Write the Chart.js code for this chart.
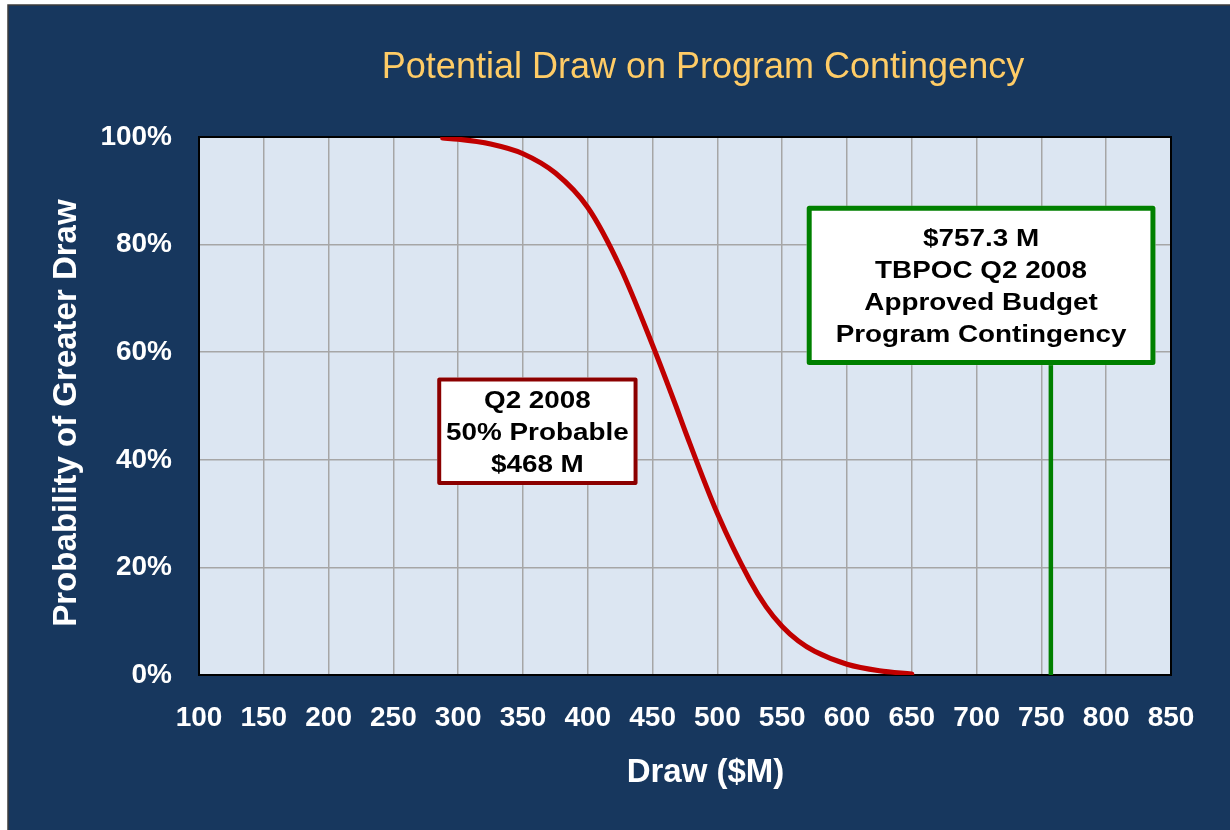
<!DOCTYPE html>
<html>
<head>
<meta charset="utf-8">
<title>Potential Draw on Program Contingency</title>
<script src="https://cdn.jsdelivr.net/npm/chart.js@4.4.1/dist/chart.umd.min.js"></script>
<style>
  html, body { margin: 0; padding: 0; background: #fff; }
</style>
</head>
<body>
<canvas id="chart" width="1230" height="830"></canvas>
<script>
// Draw ($M) vs probability of a greater draw (%)
const drawValues = [288, 300, 325, 350, 375, 400, 425, 450, 468, 475, 500, 525, 537.5, 550, 562.5, 575, 600, 625, 650];
const probValues = [99.8, 99.6, 98.7, 96.9, 93.3, 86.9, 75.8, 61.3, 50, 45.4, 30, 17.6, 12.7, 9.0, 6.3, 4.4, 2.0, 0.8, 0.2];

// Approved budget contingency marker
const budgetDraw = [757.3, 757.3];
const budgetProb = [0, 62];

const xTickValues = [100, 150, 200, 250, 300, 350, 400, 450, 500, 550, 600, 650, 700, 750, 800, 850];
const yTickValues = [0, 20, 40, 60, 80, 100];

const redNoteLines = ['Q2 2008', '50% Probable', '$468 M'];
const greenNoteLines = ['$757.3 M', 'TBPOC Q2 2008', 'Approved Budget', 'Program Contingency'];

const FONT = "'Liberation Sans', Arial, sans-serif";
const NAVY = '#17375E';
const PLOT_BG = '#DCE6F2';

// callout boxes, placed in data units (draw $M / probability %)
const notes = [
  { lines: redNoteLines, x0: 283.8, x1: 438.4, y0: 35.3, y1: 55.3, color: '#8B0000', border: 4 },
  { lines: greenNoteLines, x0: 568.9, x1: 838, y0: 57.6, y1: 87.2, color: '#008000', border: 5 }
];

const framePlugin = {
  id: 'frame',
  beforeDraw(chart) {
    const { ctx, chartArea: a } = chart;
    ctx.save();
    ctx.fillStyle = '#fff';
    ctx.fillRect(0, 0, chart.width, chart.height);
    ctx.fillStyle = NAVY;
    ctx.fillRect(8, 5, chart.width - 8, chart.height - 5);
    ctx.strokeStyle = '#3c3c3c';
    ctx.lineWidth = 1.5;
    ctx.beginPath();
    ctx.moveTo(8, chart.height);
    ctx.lineTo(8, 5);
    ctx.lineTo(chart.width, 5);
    ctx.stroke();
    ctx.fillStyle = PLOT_BG;
    ctx.fillRect(a.left, a.top, a.width, a.height);
    ctx.restore();
  },
  beforeDatasetsDraw(chart) {
    const { ctx, chartArea: a } = chart;
    ctx.save();
    ctx.strokeStyle = '#000';
    ctx.lineWidth = 2;
    ctx.strokeRect(a.left, a.top, a.width, a.height);
    ctx.restore();
  },
  afterDatasetsDraw(chart) {
    const { ctx } = chart;
    const xs = chart.scales.x, ys = chart.scales.y;
    notes.forEach(n => {
      const l = xs.getPixelForValue(n.x0), r = xs.getPixelForValue(n.x1);
      const t = ys.getPixelForValue(n.y1), b = ys.getPixelForValue(n.y0);
      const bw = n.border;
      ctx.save();
      ctx.fillStyle = '#fff';
      ctx.fillRect(l, t, r - l, b - t);
      ctx.strokeStyle = n.color;
      ctx.lineWidth = bw;
      ctx.lineJoin = 'round';
      ctx.strokeRect(l + bw / 2, t + bw / 2, r - l - bw, b - t - bw);

      // text slightly stretched sideways like the original slide
      const size = 24, lh = 32, cap = size * 0.716;
      ctx.font = `bold ${size}px ${FONT}`;
      ctx.fillStyle = '#000';
      ctx.textAlign = 'center';
      ctx.textBaseline = 'alphabetic';
      const cx = (l + r) / 2, cy = (t + b) / 2;
      const first = cy - ((n.lines.length - 1) * lh + cap) / 2 + cap;
      n.lines.forEach((s, i) => {
        ctx.save();
        ctx.translate(cx, first + i * lh);
        ctx.scale(1.16, 1);
        ctx.fillText(s, 0, 0);
        ctx.restore();
      });
      ctx.restore();
    });
  },
  afterDraw(chart) {
    const { ctx } = chart;
    ctx.save();
    ctx.textAlign = 'center';
    ctx.textBaseline = 'alphabetic';

    ctx.fillStyle = '#FFCC66';
    ctx.font = `36px ${FONT}`;
    ctx.fillText('Potential Draw on Program Contingency', 703, 78);

    ctx.fillStyle = '#fff';
    ctx.font = `bold 33px ${FONT}`;
    ctx.fillText('Draw ($M)', 705.5, 781.5);

    ctx.translate(76, 413);
    ctx.rotate(-Math.PI / 2);
    ctx.fillText('Probability of Greater Draw', 0, 0);
    ctx.restore();
  }
};

const curve = drawValues.map((x, i) => ({ x, y: probValues[i] }));
const budgetLine = budgetDraw.map((x, i) => ({ x, y: budgetProb[i] }));

const tickFont = { family: FONT, size: 28, weight: 'bold' };

new Chart(document.getElementById('chart'), {
  type: 'line',
  data: {
    datasets: [
      {
        data: curve,
        borderColor: '#C00000',
        borderWidth: 5,
        borderCapStyle: 'round',
        cubicInterpolationMode: 'monotone',
        pointRadius: 0,
        fill: false
      },
      {
        data: budgetLine,
        borderColor: '#008000',
        borderWidth: 4.5,
        pointRadius: 0,
        fill: false
      }
    ]
  },
  options: {
    responsive: false,
    animation: false,
    layout: { padding: { left: 0, top: 137, right: 59, bottom: 0 } },
    plugins: {
      legend: { display: false },
      tooltip: { enabled: false },
      title: { display: false }
    },
    scales: {
      x: {
        type: 'linear',
        min: 100,
        max: 850,
        afterBuildTicks: s => { s.ticks = xTickValues.map(value => ({ value })); },
        afterFit: s => { s.height = 155; },
        grid: { color: '#A6A6A6', lineWidth: 1.5, drawTicks: false },
        border: { display: false },
        ticks: {
          color: '#fff',
          font: tickFont,
          padding: 26,
          autoSkip: false,
          maxRotation: 0
        }
      },
      y: {
        type: 'linear',
        min: 0,
        max: 100,
        afterBuildTicks: s => { s.ticks = yTickValues.map(value => ({ value })); },
        afterFit: s => { s.width = 199; },
        grid: { color: '#A6A6A6', lineWidth: 1.5, drawTicks: false },
        border: { display: false },
        ticks: {
          color: '#fff',
          font: tickFont,
          padding: 27,
          callback: v => v + '%'
        }
      }
    }
  },
  plugins: [framePlugin]
});
</script>
</body>
</html>
